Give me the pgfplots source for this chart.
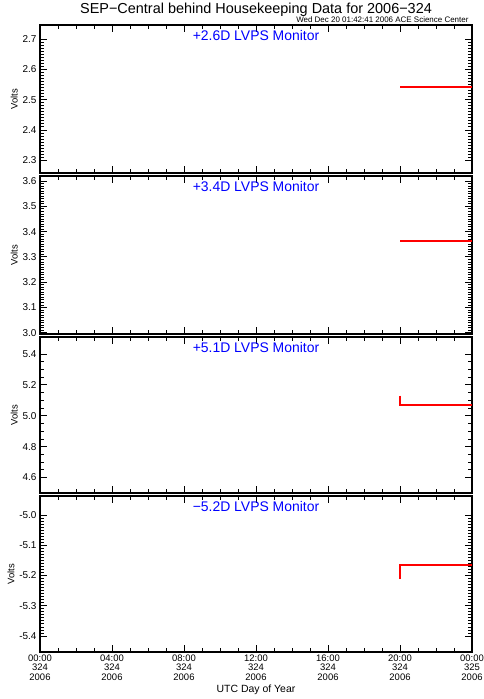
\documentclass[border=0pt]{standalone}
\usepackage{fontspec}
\setmainfont{Liberation Sans}
\usepackage{pgfplots}
\pgfplotsset{compat=1.18}
\tikzset{ptitle/.style={font=\fontsize{14}{15}\selectfont, text=blue, anchor=north}}
\begin{document}
\begin{tikzpicture}
\path[use as bounding box] (0bp,0bp) rectangle (484bp,699bp);
\pgfplotsset{
  panel/.style={
    scale only axis, width=432bp, anchor=south west,
    xmin=0, xmax=24, xtick={0,4,...,24}, minor x tick num=3,
    axis line style={line width=1.3pt}, every tick/.style={black, line width=0.8pt},
    major tick length=7bp, minor tick length=4bp,
    tick align=inside, xtick pos=both, ytick pos=both,
    y tick label style={font=\fontsize{10}{11}\selectfont},
    /pgf/number format/assume math mode=true,
    /pgf/number format/fixed, /pgf/number format/fixed zerofill, /pgf/number format/precision=1,
    ylabel={Volts}, ylabel style={font=\fontsize{9.5}{10}\selectfont, yshift=-2bp},
    clip=false,
  },
  noxlabels/.style={xticklabels={}},
  dline/.style={draw=red, line width=1.5pt},
}
\node[font=\fontsize{14.5}{15}\selectfont] at (256bp,689bp) {SEP\textminus Central behind Housekeeping Data for 2006\textminus 324};
\node[font=\fontsize{8}{9}\selectfont, anchor=east] at (472bp,679bp) {Wed Dec 20 01:42:41 2006 ACE Science Center};
% Panel 1
\begin{axis}[panel, noxlabels, at={(40bp,526bp)}, height=148bp,
  ymin=2.258, ymax=2.746, ytick={2.3,2.4,...,2.71}, minor y tick num=9]
\addplot[dline] coordinates {(20,2.541) (24,2.541)};
\node[ptitle] at (rel axis cs:0.5,1) [yshift=-2bp] {+2.6D LVPS Monitor};
\end{axis}
% Panel 2
\begin{axis}[panel, noxlabels, at={(40bp,365bp)}, height=158bp,
  ymin=2.995, ymax=3.62, ytick={3.0,3.1,...,3.61}, minor y tick num=9]
\addplot[dline] coordinates {(20,3.362) (24,3.362)};
\node[ptitle] at (rel axis cs:0.5,1) [yshift=-2bp] {+3.4D LVPS Monitor};
\end{axis}
% Panel 3
\begin{axis}[panel, noxlabels, at={(40bp,206bp)}, height=156bp,
  ymin=4.5, ymax=5.51, ytick={4.6,4.8,...,5.41}, minor y tick num=3]
\addplot[dline] coordinates {(20,5.13) (20,5.07) (24,5.07)};
\node[ptitle] at (rel axis cs:0.5,1) [yshift=-2bp] {+5.1D LVPS Monitor};
\end{axis}
% Panel 4
\begin{axis}[panel, at={(40bp,47bp)}, height=156bp,
  ymin=-5.453, ymax=-4.937, ytick={-5.4,-5.3,...,-4.99}, minor y tick num=9,
  xticklabels={{00:00\\324\\2006},{04:00\\324\\2006},{08:00\\324\\2006},{12:00\\324\\2006},{16:00\\324\\2006},{20:00\\324\\2006},{00:00\\325\\2006}},
  x tick label style={align=center, font=\fontsize{9.5}{9.5}\selectfont, yshift=1bp},
  xlabel={UTC Day of Year}, xlabel style={font=\fontsize{10.5}{11}\selectfont, yshift=2bp}]
\addplot[dline] coordinates {(20,-5.212) (20,-5.165) (24,-5.165)};
\node[ptitle] at (rel axis cs:0.5,1) [yshift=-2bp] {\textminus 5.2D LVPS Monitor};
\end{axis}
\end{tikzpicture}
\end{document}
